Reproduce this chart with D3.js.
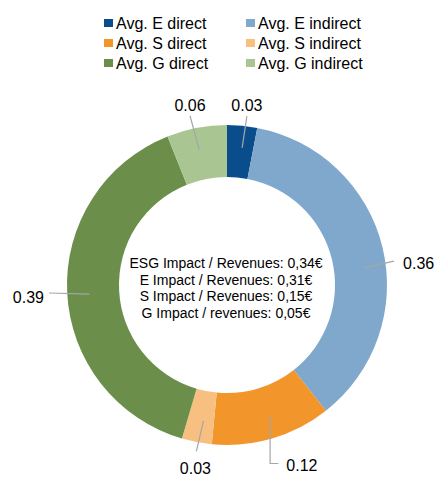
<!DOCTYPE html>
<html>
<head>
<meta charset="utf-8">
<script src="https://cdn.jsdelivr.net/npm/d3@7"></script>
<style>
  body { margin: 0; background: #fff; }
  text { font-family: "Liberation Sans", Arial, sans-serif; fill: #000; }
</style>
</head>
<body>
<svg width="435" height="480"></svg>
<script>
// chart data
const categories = ["Avg. E direct", "Avg. E indirect", "Avg. S direct", "Avg. S indirect", "Avg. G direct", "Avg. G indirect"];
const values = [0.03, 0.36, 0.12, 0.03, 0.39, 0.06];
const colors = ["#0a4d8c", "#80a8cc", "#f2952a", "#f7bf80", "#6b8f4a", "#a8c592"];
const centerLines = [
  "ESG Impact / Revenues: 0,34€",
  "E Impact / Revenues: 0,31€",
  "S Impact / Revenues: 0,15€",
  "G Impact / revenues: 0,05€"
];

const svg = d3.select("svg");
const cx = 227, cy = 285, outerR = 160, innerR = 108;

// legend, 2 columns x 3 rows
const legend = svg.append("g").attr("class", "legend");
const legendItem = legend
  .selectAll("g")
  .data(categories)
  .enter()
  .append("g")
  .attr("transform", (d, i) => `translate(${104 + (i % 2) * 142},${19 + Math.floor(i / 2) * 20})`);
legendItem.append("rect").attr("width", 9).attr("height", 8).attr("fill", (d, i) => colors[i]);
legendItem
  .append("text")
  .attr("x", 12)
  .attr("y", 9.5)
  .style("font-size", "16px")
  .text((d) => d);

// donut
const pie = d3.pie().sort(null).value((d) => d);
const arcs = pie(values);
const arc = d3.arc().innerRadius(innerR).outerRadius(outerR);

const chart = svg.append("g").attr("transform", `translate(${cx},${cy})`);
chart
  .selectAll("path")
  .data(arcs)
  .enter()
  .append("path")
  .attr("d", arc)
  .attr("fill", (d, i) => colors[i]);

// label placement: angle (deg, clockwise from top) + distance of the text's near point
const labelPlace = [
  { a: 6.3, r: 181, side: "top" },
  { a: 82.9, r: 177.4, side: "right" },
  { a: 161.8, r: 190, side: "right", elbow: true },
  { a: 189.8, r: 186, side: "bottom" },
  { a: -93.75, r: 183.4, side: "left" },
  { a: -11.6, r: 184, side: "top" }
];
const midR = (innerR + outerR) / 2 + 4;
const rad = (deg) => (deg * Math.PI) / 180;
const polar = (a, r) => [r * Math.sin(a), -r * Math.cos(a)];

arcs.forEach((d, i) => {
  const p = labelPlace[i];
  let a = rad(p.a);
  // normalise into slice range
  while (a < d.startAngle - Math.PI) a += 2 * Math.PI;
  while (a > d.endAngle + Math.PI) a -= 2 * Math.PI;
  const pad = 0.025;
  const anchorA = Math.max(d.startAngle + pad, Math.min(d.endAngle - pad, a));
  const [ax, ay] = polar(anchorA, midR);
  const [lx, ly] = polar(rad(p.a), p.r);

  let pts;
  let anchor = "middle";
  if (p.side === "top") pts = [[ax, ay], [lx, ly + 11]];
  else if (p.side === "bottom") pts = [[ax, ay], [lx + 1, ly - 17]];
  else if (p.side === "right") {
    anchor = "start";
    pts = p.elbow
      ? [[ax, ay], [ax, ly - 2], [lx - 8, ly - 2]]
      : [[ax, ay], [lx - 9, ly - 2]];
  } else {
    anchor = "end";
    pts = [[ax, ay], [lx + 5, ly - 4]];
  }
  chart
    .append("path")
    .attr("d", d3.line()(pts))
    .attr("fill", "none")
    .attr("stroke", "#a6a6a6")
    .attr("stroke-width", 1.2);

  chart
    .append("text")
    .attr("x", lx)
    .attr("y", ly + 6)
    .attr("text-anchor", anchor)
    .style("font-size", "16px")
    .text(values[i].toFixed(2));
});

// center text
chart
  .selectAll(".center")
  .data(centerLines)
  .enter()
  .append("text")
  .attr("class", "center")
  .attr("x", -1)
  .attr("y", (d, i) => -17 + i * 16.5)
  .attr("text-anchor", "middle")
  .style("font-size", "14px")
  .text((d) => d);
</script>
</body>
</html>
